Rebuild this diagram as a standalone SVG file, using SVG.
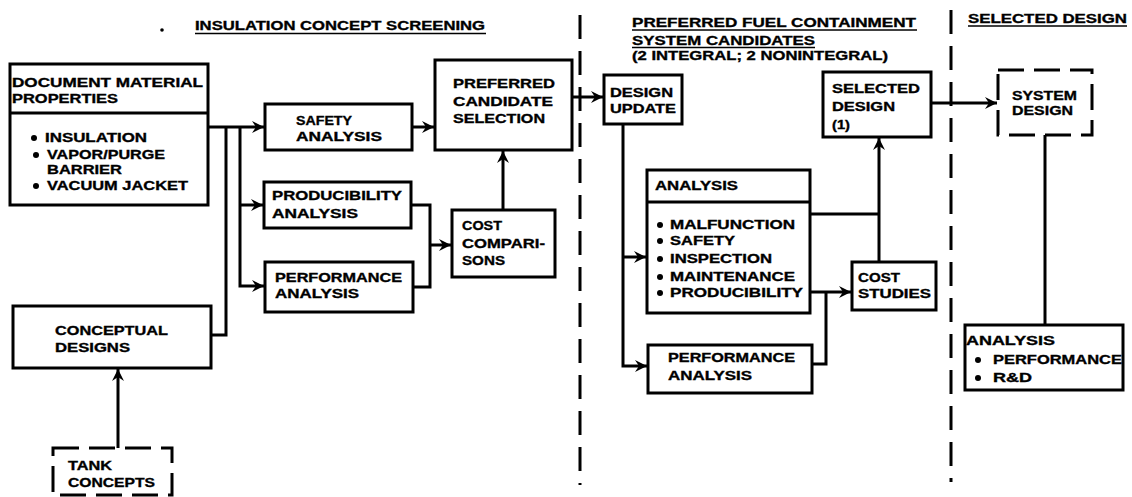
<svg xmlns="http://www.w3.org/2000/svg" width="1132" height="497" viewBox="0 0 1132 497">
<style>
.b{fill:none;stroke:#000;stroke-width:3}
.d{fill:none;stroke:#000;stroke-width:3;stroke-dasharray:26 10}
.c{fill:none;stroke:#000;stroke-width:3}
.div{fill:none;stroke:#000;stroke-width:3;stroke-dasharray:24 12}
text{font-family:"Liberation Sans",Arial,sans-serif;font-weight:bold;font-size:13px;fill:#000;stroke:#000;stroke-width:0.35}
.dot{fill:#000}
</style>
<defs>
<marker id="ah" markerUnits="userSpaceOnUse" markerWidth="14" markerHeight="14" refX="12" refY="7" orient="auto">
<path d="M0,1 L12,7 L0,13 L4,7 z" fill="#000"/>
</marker>
</defs>
<rect width="1132" height="497" fill="#fff"/>

<g id="headers">
<circle class="dot" cx="162" cy="30" r="1.8"/>
<text x="195" y="30" textLength="290" lengthAdjust="spacingAndGlyphs">INSULATION CONCEPT SCREENING</text>
<line x1="195" y1="33.5" x2="486" y2="33.5" stroke="#000" stroke-width="1.5"/>
<text x="632" y="27" textLength="284" lengthAdjust="spacingAndGlyphs">PREFERRED FUEL CONTAINMENT</text>
<line x1="632" y1="30" x2="917" y2="30" stroke="#000" stroke-width="1.5"/>
<text x="632" y="45" textLength="183" lengthAdjust="spacingAndGlyphs">SYSTEM CANDIDATES</text>
<line x1="632" y1="47.5" x2="815" y2="47.5" stroke="#000" stroke-width="1.5"/>
<text x="632" y="60" textLength="256" lengthAdjust="spacingAndGlyphs">(2 INTEGRAL; 2 NONINTEGRAL)</text>
<text x="968" y="23" textLength="159" lengthAdjust="spacingAndGlyphs">SELECTED DESIGN</text>
<line x1="968" y1="26" x2="1127" y2="26" stroke="#000" stroke-width="1.5"/>
</g>

<g id="dividers">
<line class="div" x1="580" y1="15" x2="580" y2="485"/>
<line class="div" x1="951" y1="10" x2="951" y2="482"/>
</g>

<g id="connectors">
<path class="c" d="M208,127 H264" marker-end="url(#ah)"/>
<path class="c" d="M211,335 H226 V127"/>
<path class="c" d="M240,127 V286 H264" marker-end="url(#ah)"/>
<path class="c" d="M240,205 H263" marker-end="url(#ah)"/>
<path class="c" d="M412,127 H434" marker-end="url(#ah)"/>
<path class="c" d="M411,205 H430 V287 H413"/>
<path class="c" d="M430,245 H451" marker-end="url(#ah)"/>
<path class="c" d="M503,210 V151" marker-end="url(#ah)"/>
<path class="c" d="M572,97 H603" marker-end="url(#ah)"/>
<path class="c" d="M623,124 V366 H647" marker-end="url(#ah)"/>
<path class="c" d="M623,257 H646" marker-end="url(#ah)"/>
<path class="c" d="M810,214 H879"/>
<path class="c" d="M879,262 V138" marker-end="url(#ah)"/>
<path class="c" d="M810,292 H851" marker-end="url(#ah)"/>
<path class="c" d="M812,364 H826 V292"/>
<path class="c" d="M931,103 H997" marker-end="url(#ah)"/>
<path class="c" d="M1045,135 V325"/>
<path class="c" d="M118,448 V369" marker-end="url(#ah)"/>
</g>

<g id="doc-material">
<rect class="b" x="10" y="64" width="198" height="141"/>
<line class="b" x1="10" y1="113" x2="208" y2="113"/>
<text x="12" y="87" textLength="191" lengthAdjust="spacingAndGlyphs">DOCUMENT MATERIAL</text>
<text x="12" y="103" textLength="106" lengthAdjust="spacingAndGlyphs">PROPERTIES</text>
<circle class="dot" cx="34" cy="138" r="3"/>
<text x="45" y="142" textLength="102" lengthAdjust="spacingAndGlyphs">INSULATION</text>
<circle class="dot" cx="36" cy="155" r="3"/>
<text x="47" y="159" textLength="118" lengthAdjust="spacingAndGlyphs">VAPOR/PURGE</text>
<text x="47" y="174" textLength="75" lengthAdjust="spacingAndGlyphs">BARRIER</text>
<circle class="dot" cx="36" cy="186" r="3"/>
<text x="47" y="190" textLength="141" lengthAdjust="spacingAndGlyphs">VACUUM JACKET</text>
</g>

<g id="safety">
<rect class="b" x="265" y="104" width="147" height="46"/>
<text x="296" y="125" textLength="56" lengthAdjust="spacingAndGlyphs">SAFETY</text>
<text x="296" y="141" textLength="86" lengthAdjust="spacingAndGlyphs">ANALYSIS</text>
</g>

<g id="producibility">
<rect class="b" x="264" y="182" width="147" height="46"/>
<text x="272" y="200" textLength="130" lengthAdjust="spacingAndGlyphs">PRODUCIBILITY</text>
<text x="272" y="218" textLength="86" lengthAdjust="spacingAndGlyphs">ANALYSIS</text>
</g>

<g id="performance1">
<rect class="b" x="265" y="262" width="148" height="50"/>
<text x="275" y="282" textLength="127" lengthAdjust="spacingAndGlyphs">PERFORMANCE</text>
<text x="275" y="298" textLength="84" lengthAdjust="spacingAndGlyphs">ANALYSIS</text>
</g>

<g id="cost-comparisons">
<rect class="b" x="452" y="210" width="103" height="67"/>
<text x="462" y="230" textLength="40" lengthAdjust="spacingAndGlyphs">COST</text>
<text x="462" y="248" textLength="83" lengthAdjust="spacingAndGlyphs">COMPARI-</text>
<text x="462" y="265" textLength="43" lengthAdjust="spacingAndGlyphs">SONS</text>
</g>

<g id="preferred-candidate">
<rect class="b" x="435" y="60" width="137" height="90"/>
<text x="453" y="88" textLength="102" lengthAdjust="spacingAndGlyphs">PREFERRED</text>
<text x="453" y="106" textLength="100" lengthAdjust="spacingAndGlyphs">CANDIDATE</text>
<text x="453" y="123" textLength="92" lengthAdjust="spacingAndGlyphs">SELECTION</text>
</g>

<g id="conceptual">
<rect class="b" x="13" y="306" width="198" height="62"/>
<text x="55" y="335" textLength="113" lengthAdjust="spacingAndGlyphs">CONCEPTUAL</text>
<text x="55" y="352" textLength="75" lengthAdjust="spacingAndGlyphs">DESIGNS</text>
</g>

<g id="tank-concepts">
<rect class="d" x="53" y="448" width="119" height="47"/>
<text x="68" y="470" textLength="44" lengthAdjust="spacingAndGlyphs">TANK</text>
<text x="68" y="487" textLength="87" lengthAdjust="spacingAndGlyphs">CONCEPTS</text>
</g>

<g id="design-update">
<rect class="b" x="604" y="75" width="78" height="49"/>
<text x="610" y="97" textLength="63" lengthAdjust="spacingAndGlyphs">DESIGN</text>
<text x="610" y="113" textLength="66" lengthAdjust="spacingAndGlyphs">UPDATE</text>
</g>

<g id="analysis-mid">
<rect class="b" x="647" y="170" width="163" height="143"/>
<line class="b" x1="647" y1="202" x2="810" y2="202"/>
<text x="655" y="190" textLength="83" lengthAdjust="spacingAndGlyphs">ANALYSIS</text>
<circle class="dot" cx="660" cy="225" r="3"/>
<text x="670" y="229" textLength="125" lengthAdjust="spacingAndGlyphs">MALFUNCTION</text>
<circle class="dot" cx="660" cy="241" r="3"/>
<text x="670" y="245" textLength="65" lengthAdjust="spacingAndGlyphs">SAFETY</text>
<circle class="dot" cx="660" cy="259" r="3"/>
<text x="670" y="263" textLength="102" lengthAdjust="spacingAndGlyphs">INSPECTION</text>
<circle class="dot" cx="660" cy="277" r="3"/>
<text x="670" y="281" textLength="125" lengthAdjust="spacingAndGlyphs">MAINTENANCE</text>
<circle class="dot" cx="660" cy="293" r="3"/>
<text x="670" y="297" textLength="133" lengthAdjust="spacingAndGlyphs">PRODUCIBILITY</text>
</g>

<g id="performance2">
<rect class="b" x="648" y="345" width="164" height="48"/>
<text x="668" y="362" textLength="127" lengthAdjust="spacingAndGlyphs">PERFORMANCE</text>
<text x="668" y="380" textLength="84" lengthAdjust="spacingAndGlyphs">ANALYSIS</text>
</g>

<g id="selected-design">
<rect class="b" x="823" y="72" width="108" height="65"/>
<text x="832" y="93" textLength="88" lengthAdjust="spacingAndGlyphs">SELECTED</text>
<text x="832" y="111" textLength="63" lengthAdjust="spacingAndGlyphs">DESIGN</text>
<text x="832" y="129" textLength="18" lengthAdjust="spacingAndGlyphs">(1)</text>
</g>

<g id="cost-studies">
<rect class="b" x="852" y="262" width="84" height="48"/>
<text x="858" y="282" textLength="42" lengthAdjust="spacingAndGlyphs">COST</text>
<text x="858" y="298" textLength="73" lengthAdjust="spacingAndGlyphs">STUDIES</text>
</g>

<g id="system-design">
<rect class="d" x="998" y="70" width="94" height="65"/>
<text x="1012" y="100" textLength="65" lengthAdjust="spacingAndGlyphs">SYSTEM</text>
<text x="1012" y="115" textLength="61" lengthAdjust="spacingAndGlyphs">DESIGN</text>
</g>

<g id="analysis-right">
<rect class="b" x="965" y="325" width="158" height="65"/>
<text x="966" y="345" textLength="89" lengthAdjust="spacingAndGlyphs">ANALYSIS</text>
<circle class="dot" cx="978" cy="360" r="3"/>
<text x="993" y="364" textLength="129" lengthAdjust="spacingAndGlyphs">PERFORMANCE</text>
<circle class="dot" cx="978" cy="378" r="3"/>
<text x="993" y="382" textLength="39" lengthAdjust="spacingAndGlyphs">R&amp;D</text>
</g>
</svg>
